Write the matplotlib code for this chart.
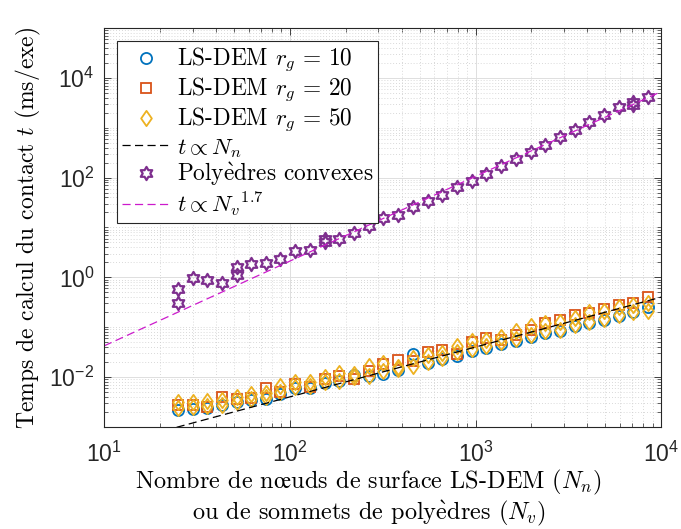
import numpy as np
import matplotlib
matplotlib.use('Agg')
import matplotlib.pyplot as plt
from matplotlib.path import Path
from matplotlib.ticker import FixedLocator, LogFormatterSciNotation, NullFormatter

plt.rcParams['mathtext.fontset'] = 'cm'
plt.rcParams['font.family'] = ['cmr10', 'STIXGeneral']
plt.rcParams['axes.formatter.use_mathtext'] = True

# nombre de noeuds / sommets
N = [25, 30, 36, 43, 52, 62, 74, 89, 107, 128, 154, 184, 221, 266, 319, 383,
     460, 552, 662, 795, 954, 1145, 1374, 1648, 1978, 2374, 2849, 3418, 4102,
     4922, 5907, 7088, 8506]

# LS-DEM (ms/exe)
t_rg10 = [0.0022, 0.0023, 0.0024, 0.0027, 0.0031, 0.0034, 0.0037, 0.0045, 0.0060,
          0.0060, 0.0075, 0.0085, 0.0110, 0.0105, 0.0115, 0.0140, 0.0288, 0.0194,
          0.0230, 0.0270, 0.0340, 0.0385, 0.0450, 0.0535, 0.0650, 0.0760, 0.0850,
          0.1050, 0.1230, 0.1390, 0.1700, 0.2000, 0.2550]
t_rg20 = [0.0027, 0.0028, 0.0025, 0.0040, 0.0036, 0.0038, 0.0060, 0.0050, 0.0072,
          0.0062, 0.0090, 0.0106, 0.0093, 0.0131, 0.0180, 0.0218, 0.0210, 0.0315,
          0.0355, 0.0288, 0.0500, 0.0600, 0.0560, 0.0700, 0.0870, 0.1220, 0.1390,
          0.1740, 0.1900, 0.2350, 0.2750, 0.3000, 0.4100]
t_rg50_a = [0.0031, 0.0032, 0.0033, 0.0034, 0.0040, 0.0046, 0.0047, 0.0066, 0.0078,
            0.0080, 0.0100, 0.0120, 0.0115, 0.0164, 0.0194, 0.0160, 0.0245, 0.0280,
            0.0300, 0.0420, 0.0535, 0.0560, 0.0650, 0.0820, 0.1050, 0.1220, 0.1290,
            0.1500, 0.2000, 0.2150, 0.2550, 0.2800, 0.3000]
t_rg50_b = [0.0024, 0.0025, 0.0026, 0.0028, 0.0032, 0.0037, 0.0039, 0.0049, 0.0062,
            0.0066, 0.0080, 0.0085, 0.0100, 0.0106, 0.0131, 0.0145, 0.0164, 0.0200,
            0.0245, 0.0315, 0.0364, 0.0420, 0.0500, 0.0575, 0.0700, 0.0820, 0.0870,
            0.1100, 0.1290, 0.1460, 0.1740, 0.2000, 0.2150]

# polyedres convexes
t_poly = [0.58, 0.98, 0.88, 0.76, 1.63, 1.82, 1.96, 2.29, 3.3, 3.6, 5.0, 5.75, 7.8,
          10.6, 15.6, 18.2, 25.9, 33.6, 44.4, 64, 87, 118, 169, 236, 321, 457, 651,
          912, 1298, 1820, 2590, 3360, 4100]
N_poly_bis = [25, 52, 154, 7088]
t_poly_bis = [0.30, 1.1, 6.0, 2900]

# lois de puissance
c_lin = 4.0e-5
c_poly = 8.43e-4
p_poly = 1.7

# marqueurs facon matlab
ang = np.pi / 2 + np.arange(12) * np.pi / 6
rad = np.where(np.arange(12) % 2 == 0, 1.0, 0.577)
v = np.c_[rad * np.cos(ang), rad * np.sin(ang)]
hexagram = Path(np.vstack([v, v[:1]]), closed=True)
diamant = Path([(0, 1), (0.7, 0), (0, -1), (-0.7, 0), (0, 1)], closed=True)

bleu = (0, 0.447, 0.741)
orange = (0.85, 0.325, 0.098)
jaune = (0.929, 0.694, 0.125)
violet = (0.494, 0.184, 0.556)

fig = plt.figure(figsize=(6.81, 5.29), dpi=100)
ax = fig.add_axes([0.153, 0.193, 0.818, 0.754])

ax.plot(N, t_rg10, 'o', ms=8, mfc='none', mec=bleu, mew=1.3, label=r'LS-DEM $r_g\,=\,10$')
ax.plot(N, t_rg20, 's', ms=6.5, mfc='none', mec=orange, mew=1.3, label=r'LS-DEM $r_g\,=\,20$')
ax.plot(N + N, t_rg50_a + t_rg50_b, ls='none', marker=diamant, ms=11, mfc='none',
        mec=jaune, mew=1.3, label=r'LS-DEM $r_g\,=\,50$')
xx = np.array([10, 1e4])
ax.plot(xx, c_lin * xx, color='k', lw=0.9, dashes=(6.5, 3.5), label=r'$t \propto N_n$')
ax.plot(N + N_poly_bis, t_poly + t_poly_bis, ls='none', marker=hexagram, ms=9.5,
        mfc='none', mec=violet, mew=1.6, label=r'Poly$\mathrm{\grave{e}}$dres convexes')
ax.plot(xx, c_poly * xx ** p_poly, color=(0.8, 0.1, 0.8), lw=0.9, dashes=(6.5, 3.5),
        label=r'$t \propto {N_v}^{1.7}$')

ax.set_xscale('log')
ax.set_yscale('log')
ax.set_xlim(10, 1e4)
ax.set_ylim(1e-3, 1e5)

ax.xaxis.set_major_locator(FixedLocator([1e1, 1e2, 1e3, 1e4]))
ax.yaxis.set_major_locator(FixedLocator([1e-2, 1e0, 1e2, 1e4]))
xmin = [k * 10.0 ** e for e in range(1, 4) for k in range(2, 10)]
ymin = [k * 10.0 ** e for e in range(-3, 5) for k in range(1, 10)]
ymin = [y for y in ymin if y not in (1e-2, 1, 1e2, 1e4)]
ax.xaxis.set_minor_locator(FixedLocator(xmin))
ax.yaxis.set_minor_locator(FixedLocator(ymin))
ax.xaxis.set_major_formatter(LogFormatterSciNotation())
ax.yaxis.set_major_formatter(LogFormatterSciNotation())
ax.xaxis.set_minor_formatter(NullFormatter())
ax.yaxis.set_minor_formatter(NullFormatter())

ax.tick_params(which='both', direction='in', top=True, right=True, color='0.15')
ax.tick_params(which='major', length=5, width=0.6, labelsize=16.5, labelcolor='0.15',
               labelfontfamily='Liberation Sans')
ax.tick_params(axis='x', which='major', pad=11)
ax.tick_params(axis='y', which='major', pad=7)
ax.tick_params(which='minor', length=3, width=0.5)
for s in ax.spines.values():
    s.set_color('0.15')
    s.set_linewidth(0.8)

ax.grid(True, which='major', color='0.87', lw=0.7)
ax.grid(True, which='minor', color='0.8', lw=0.6, ls=(0, (1, 2.5)))
ax.set_axisbelow(True)

ax.set_ylabel('Temps de calcul du contact $t$ (ms/exe)', fontsize=17, labelpad=5)
ax.set_xlabel('Nombre de n$\\mathrm{œ}$uds de surface LS-DEM ($N_n$)\n'
              'ou de sommets de poly$\\mathrm{\\grave{e}}$dres ($N_v$)',
              fontsize=17.5, labelpad=0, linespacing=1.1)
ax.xaxis.label.set_x(0.475)

leg = ax.legend(loc='upper left', fontsize=16.8, frameon=True, fancybox=False,
                framealpha=1, edgecolor='0.15', handlelength=2.1, handletextpad=0.25,
                labelspacing=0.05, borderpad=0.2, borderaxespad=0.55, numpoints=1)
leg.get_frame().set_linewidth(0.8)

fig.savefig('out.png', dpi=100)
